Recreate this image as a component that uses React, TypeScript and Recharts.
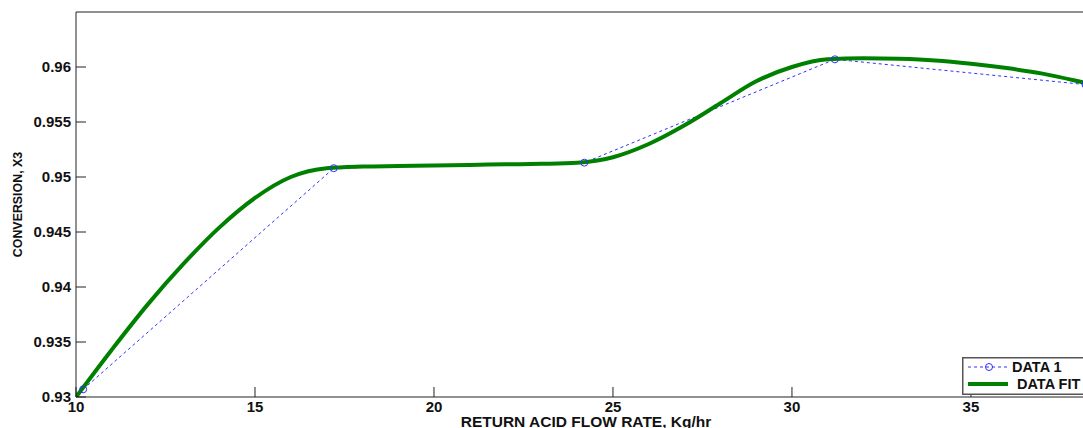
import React from 'react';
import { LineChart, Line, XAxis, YAxis, Legend, ReferenceLine } from 'recharts';

// measured data points
const dataX = [10.2, 17.2, 24.2, 31.2, 38.2];
const dataY = [0.9307, 0.9508, 0.9513, 0.9607, 0.9584];

// fitted curve samples
const fitX = [10, 11, 12, 13, 14, 15, 16, 17, 18, 19, 20, 21, 22, 23, 24, 25, 26, 27, 28, 29, 30, 31, 32, 33, 34, 35, 36, 37, 38, 38.2];
const fitY = [0.93, 0.9343, 0.9384, 0.9421, 0.9454, 0.9481, 0.95, 0.9508, 0.95095, 0.951, 0.95105, 0.9511, 0.95115, 0.9512, 0.9513, 0.9518, 0.953, 0.9547, 0.9567, 0.9587, 0.96, 0.9607, 0.9608, 0.96075, 0.9606, 0.9603, 0.9599, 0.9594, 0.9587, 0.95855];

const xTicks = [10, 15, 20, 25, 30, 35];
const yTicks = [0.93, 0.935, 0.94, 0.945, 0.95, 0.955, 0.96];

const BLUE = '#3030ff';
const GREEN = '#008000';
const FONT = '"Liberation Sans", Arial, sans-serif';

const data1 = dataX.map((x, i) => ({ x, y: dataY[i] }));
const fit = fitX.map((x, i) => ({ x, y: fitY[i] }));

const tickStyle = { fontFamily: FONT, fontSize: 15, fontWeight: 700, fill: '#111' };

const renderLegend = (props: any) => {
  const items = props.payload || [];
  return (
    <svg width={121} height={38} style={{ display: 'block' }}>
      <rect x={0.75} y={0.75} width={140} height={36.5} fill="#fff" stroke="#555" strokeWidth={1.5} />
      {items.map((item: any, i: number) =>
        i === 0 ? (
          <g key={item.value}>
            <line x1={6} x2={45} y1={10} y2={10} stroke={BLUE} strokeDasharray="3 3" />
            <circle cx={27} cy={10} r={3.5} fill="none" stroke={BLUE} />
            <text x={50} y={15} style={{ fontFamily: FONT, fontSize: 14.5, fontWeight: 700 }} fill="#111">{item.value}</text>
          </g>
        ) : (
          <g key={item.value}>
            <line x1={6} x2={46} y1={27} y2={27} stroke={GREEN} strokeWidth={4} />
            <text x={55} y={32} style={{ fontFamily: FONT, fontSize: 14.5, fontWeight: 700 }} fill="#111">{item.value}</text>
          </g>
        )
      )}
    </svg>
  );
};

const YLabel = () => (
  <text
    x={18}
    y={204.5}
    transform="rotate(-90, 18, 204.5)"
    textAnchor="middle"
    dominantBaseline="central"
    style={{ fontFamily: FONT, fontSize: 12.4, fontWeight: 700 }}
    fill="#111"
  >
    CONVERSION, X3
  </text>
);

const XLabel = () => (
  <text x={586} y={427} textAnchor="middle" style={{ fontFamily: FONT, fontSize: 15.5, fontWeight: 700 }} fill="#111">
    RETURN ACID FLOW RATE, Kg/hr
  </text>
);

const App: React.FC = () => {
  return (
    <div style={{ position: 'fixed', left: 0, top: 0, width: 1083, height: 428, overflow: 'hidden', background: '#fff' }}>
      <LineChart width={1083} height={428} margin={{ top: 12, right: 0, bottom: 0, left: 0 }}>
        <XAxis
          dataKey="x"
          type="number"
          domain={[10, 38.13]}
          allowDataOverflow
          ticks={xTicks}
          height={31}
          tickSize={-10}
          tickMargin={14}
          stroke="#222"
          tick={tickStyle}
          label={<XLabel />}
        />
        <YAxis
          dataKey="y"
          type="number"
          domain={[0.93, 0.965]}
          allowDataOverflow
          ticks={yTicks}
          width={76}
          tickSize={-10}
          tickMargin={15}
          stroke="#222"
          tick={tickStyle}
          label={<YLabel />}
        />
        <ReferenceLine y={0.965} stroke="#222" strokeWidth={1.2} />
        <Legend
          layout="horizontal"
          align="center"
          verticalAlign="middle"
          content={renderLegend}
          wrapperStyle={{ left: 962, top: 357, width: 121, height: 38 }}
        />
        <Line
          data={data1}
          dataKey="y"
          name="DATA 1"
          type="linear"
          stroke={BLUE}
          strokeWidth={1}
          strokeDasharray="3 3"
          dot={{ r: 3.5, fill: 'none', stroke: BLUE, strokeWidth: 1, strokeDasharray: '' }}
          isAnimationActive={false}
        />
        <Line
          data={fit}
          dataKey="y"
          name="DATA FIT"
          type="monotone"
          stroke={GREEN}
          strokeWidth={4}
          dot={false}
          isAnimationActive={false}
        />
      </LineChart>
    </div>
  );
};

export default App;
